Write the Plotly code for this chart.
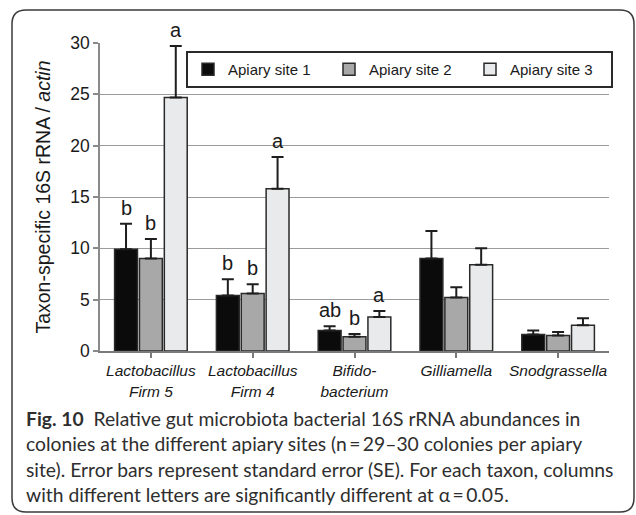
import plotly.graph_objects as go

# ---------------- data ----------------
categories = ["Lactobacillus Firm 5", "Lactobacillus Firm 4", "Bifidobacterium",
              "Gilliamella", "Snodgrassella"]
tick_labels = ["<i>Lactobacillus</i><br><i>Firm 5</i>",
               "<i>Lactobacillus</i><br><i>Firm 4</i>",
               "<i>Bifido-</i><br><i>bacterium</i>",
               "<i>Gilliamella</i>",
               "<i>Snodgrassella</i>"]
series_names = ["Apiary site 1", "Apiary site 2", "Apiary site 3"]
site1 = [9.9, 5.4, 2.0, 9.0, 1.6]
site1_se = [2.5, 1.6, 0.4, 2.7, 0.4]
site2 = [9.0, 5.6, 1.4, 5.2, 1.5]
site2_se = [1.9, 0.9, 0.25, 1.0, 0.35]
site3 = [24.7, 15.8, 3.3, 8.4, 2.5]
site3_se = [5.0, 3.1, 0.6, 1.6, 0.7]
letters1 = ["b", "b", "ab", "", ""]
letters2 = ["b", "b", "b", "", ""]
letters3 = ["a", "a", "a", "", ""]
y_ticks = [0, 5, 10, 15, 20, 25, 30]
caption_lines = [
    "<b>Fig. 10</b>  Relative gut microbiota bacterial 16S rRNA abundances in",
    "colonies at the different apiary sites (n\u2009=\u200929\u201330 colonies per apiary",
    "site). Error bars represent standard error (SE). For each taxon, columns",
    "with different letters are significantly different at \u03b1\u2009=\u20090.05.",
]

# ---------------- style ----------------
W, H = 636, 515
ML, MR, MT, MB = 100, 27, 43, 164
PW, PH = W - ML - MR, H - MT - MB
FONT = "Liberation Sans, Arial, sans-serif"
CAP_FONT = "Lato, Open Sans, sans-serif"
fills = ["#0b0b0b", "#a8a8a8", "#e9eaeb"]
BARGAP, GROUPGAP = 0.267, 0.08

def px_x(p):
    return (p - ML) / PW

def px_y(p):
    return (H - MB - p) / PH

fig = go.Figure()
all_vals = [site1, site2, site3]
all_se = [site1_se, site2_se, site3_se]
all_letters = [letters1, letters2, letters3]
for name, vals, se, col in zip(series_names, all_vals, all_se, fills):
    fig.add_trace(go.Bar(
        x=categories, y=vals, name=name,
        marker=dict(color=col, line=dict(color="#2a2a2a", width=1.5)),
        error_y=dict(type="data", array=se, arrayminus=[0] * len(se), symmetric=False,
                     color="#1e1e1e", thickness=2, width=6),
    ))

# significance letters
slot = (1 - BARGAP) / 3
for k, (vals, se, lets) in enumerate(zip(all_vals, all_se, all_letters)):
    for i, lt in enumerate(lets):
        if not lt:
            continue
        fig.add_annotation(x=i + (k - 1) * slot, y=vals[i] + se[i], xref="x", yref="y",
                           text=lt, showarrow=False, yanchor="bottom", yshift=3,
                           font=dict(family=FONT, size=20, color="#1a1a1a"))

# caption
baselines = [424, 449.5, 475, 500]
for line, b in zip(caption_lines, baselines):
    fig.add_annotation(x=px_x(24), y=px_y(b - 6), xref="paper", yref="paper",
                       text=line, showarrow=False, xanchor="left", yanchor="middle",
                       font=dict(family=CAP_FONT, size=19.3, color="#2e2e2e"))

# rounded frame
x0, x1 = px_x(12), px_x(634)
y0, y1 = px_y(512), px_y(10)
rx, ry = 14 / PW, 14 / PH
path = (f"M {x0+rx},{y1} L {x1-rx},{y1} Q {x1},{y1} {x1},{y1-ry} "
        f"L {x1},{y0+ry} Q {x1},{y0} {x1-rx},{y0} L {x0+rx},{y0} "
        f"Q {x0},{y0} {x0},{y0+ry} L {x0},{y1-ry} Q {x0},{y1} {x0+rx},{y1} Z")
fig.add_shape(type="path", path=path, xref="paper", yref="paper",
              line=dict(color="#3a3a3a", width=1.5), layer="below")

fig.update_layout(
    width=W, height=H,
    margin=dict(l=ML, r=MR, t=MT, b=MB, pad=0),
    paper_bgcolor="white", plot_bgcolor="white",
    barmode="group", bargap=BARGAP, bargroupgap=GROUPGAP,
    font=dict(family=FONT, color="#1a1a1a"),
    showlegend=True,
    legend=dict(orientation="h", x=px_x(186), xanchor="left", y=px_y(51), yanchor="top",
                bordercolor="#2a2a2a", borderwidth=2, bgcolor="white",
                font=dict(family=FONT, size=15, color="#1a1a1a"),
                entrywidth=96, traceorder="normal"),
    xaxis=dict(tickmode="array", tickvals=categories, ticktext=tick_labels,
               tickfont=dict(family=FONT, size=15.5, color="#1a1a1a"),
               showline=True, linecolor="#7a7a7a", linewidth=1.5,
               ticks="outside", ticklen=5, tickcolor="#7a7a7a", tickwidth=1.5,
               showgrid=False),
    yaxis=dict(range=[0, 30], tickvals=y_ticks,
               tickfont=dict(family=FONT, size=17.5, color="#1a1a1a"),
               showline=True, linecolor="#8a8a8a", linewidth=1.5,
               ticks="outside", ticklen=5, tickcolor="#8a8a8a", tickwidth=1.5,
               showgrid=True, gridcolor="#9c9c9c", gridwidth=1.3,
               zeroline=False,
               title=dict(text="Taxon-specific 16S rRNA / <i>actin</i>",
                          font=dict(family=FONT, size=19.5, color="#1a1a1a"),
                          standoff=14)),
)

fig.write_html("out.html", config={"displayModeBar": False},
               post_script="document.body.style.margin='0';")
